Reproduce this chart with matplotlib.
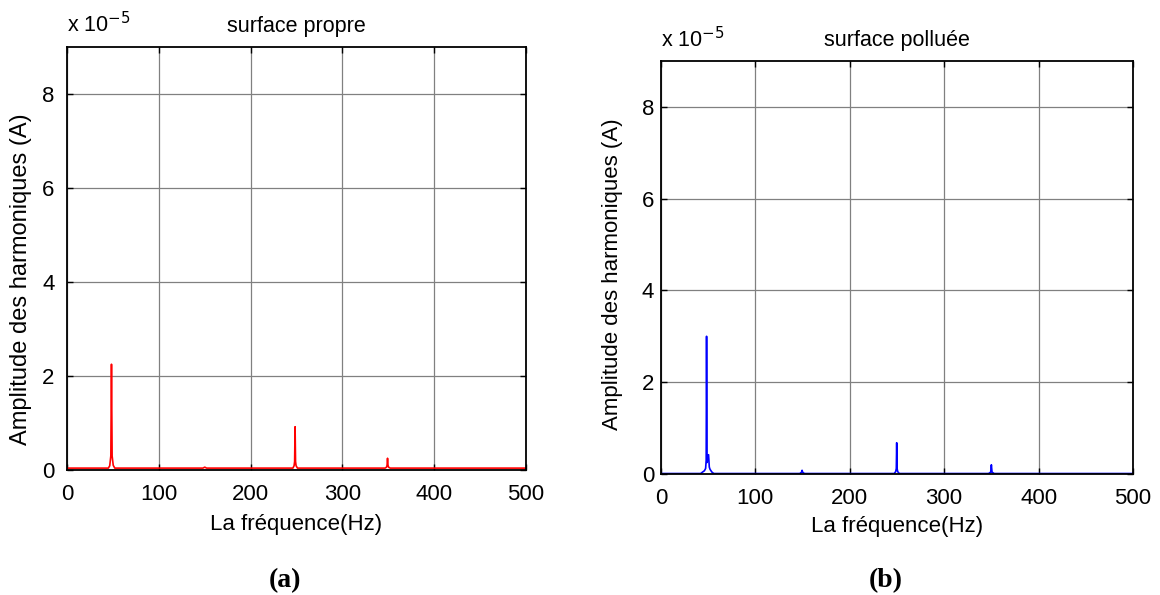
import numpy as np
from matplotlib import pyplot as plt

plt.rcParams['font.family'] = ['Liberation Sans', 'DejaVu Sans']

# Spectra (amplitudes in units of 1e-5 A)
freqA = [0, 45, 46.5, 47.7, 48.4, 49.1, 50.3, 52, 148, 150, 152,
         246, 247.3, 247.9, 248.4, 248.9, 249.5, 251,
         346.5, 348, 348.6, 349.1, 349.6, 350.2, 352, 500]
ampA = [0.04, 0.04, 0.09, 0.3, 2.25, 0.3, 0.1, 0.04, 0.04, 0.06, 0.04,
        0.04, 0.09, 0.18, 0.92, 0.18, 0.09, 0.04,
        0.04, 0.06, 0.1, 0.25, 0.1, 0.06, 0.04, 0.04]

freqB = [0, 42, 44, 46, 47.3, 47.9, 48.3, 48.8, 50.4, 51.2, 52, 54, 56,
         147, 149, 149.5, 150, 152,
         247, 248.6, 249.3, 249.7, 250.1, 250.8, 252.5,
         347, 349.3, 350, 350.7, 353, 500]
ampB = [0.01, 0.01, 0.04, 0.07, 0.12, 0.3, 3.0, 0.25, 0.42, 0.15, 0.1, 0.04, 0.01,
        0.01, 0.04, 0.08, 0.04, 0.01,
        0.01, 0.05, 0.12, 0.68, 0.12, 0.05, 0.01,
        0.01, 0.04, 0.2, 0.04, 0.01, 0.01]

xTicks = [0, 100, 200, 300, 400, 500]
yTicks = [0, 2, 4, 6, 8]

fig = plt.figure(figsize=(11.6, 5.95), dpi=100)
axA = fig.add_axes([0.0578, 0.2101, 0.3957, 0.7109])
axB = fig.add_axes([0.5698, 0.2034, 0.4069, 0.6941])

# axis, x, y, colour, title, tag, tag x, ylabel size, ytick pad, ylabel x, ylabel y, xlabel y
panels = [(axA, freqA, ampA, 'red', 'surface propre', '(a)', 0.2457, 17, 9, -0.076, 0.45, -0.104),
          (axB, freqB, ampB, 'blue', 'surface polluée', '(b)', 0.7638, 16, 5, -0.080, 0.484, -0.102)]

for ax, f, a, col, title, tag, tx, ysz, ypad, ylx, yly, xly in panels:
    ax.plot(f, a, color=col, linewidth=1.2)
    ax.set_xlim(0, 500)
    ax.set_ylim(0, 9)
    ax.set_xticks(xTicks)
    ax.set_yticks(yTicks)
    ax.grid(True, color='#808080', linewidth=0.9)
    ax.set_axisbelow(True)
    ax.tick_params(direction='in', top=True, right=True, labelsize=16,
                   length=4, width=1)
    ax.tick_params(axis='x', pad=10)
    ax.tick_params(axis='y', pad=ypad)
    for s in ax.spines.values():
        s.set_linewidth(1.3)
    ax.set_title(title, fontsize=15.5, pad=11)
    ax.set_xlabel('La fréquence(Hz)', fontsize=16)
    ax.xaxis.set_label_coords(0.5, xly)
    ax.set_ylabel('Amplitude des harmoniques (A)', fontsize=ysz)
    ax.yaxis.set_label_coords(ylx, yly)
    ax.text(0.0, 1.022, r'x 10$^{-5}$', transform=ax.transAxes,
            fontsize=15.5, ha='left', va='bottom')
    fig.text(tx, 0.025, tag, ha='center', va='center', fontsize=20,
             fontweight='bold', family=['Liberation Serif', 'DejaVu Serif'])

fig.savefig('out.png', dpi=100)
